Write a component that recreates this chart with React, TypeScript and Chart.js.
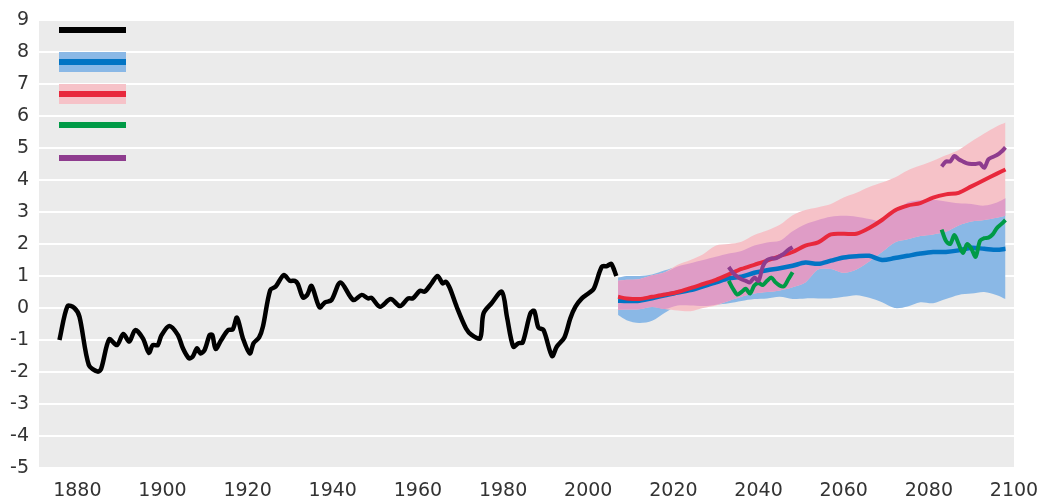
import React, { useEffect, useRef } from "react";
import { Chart, registerables } from "chart.js";

Chart.register(...registerables);

// ---- axis ticks ----
const xTickYears = [1880, 1900, 1920, 1940, 1960, 1980, 2000, 2020, 2040, 2060, 2080, 2100];
const yMin = -5;
const yMax = 9;
const xMin = 1871;
const xMax = 2100;

// ---- observed record (black) ----
const obsYears = [
  1875.8, 1877.7, 1879.3, 1880.5, 1882.7, 1884.8, 1885.6, 1887.5, 1889.3, 1890.8,
  1892.2, 1893.6, 1895.4, 1896.8, 1897.7, 1898.9, 1899.7, 1901.6, 1903.6, 1904.8,
  1906.2, 1907.1, 1908.1, 1908.9, 1909.9, 1911.1, 1911.7, 1912.5, 1913.8, 1915.4,
  1916.5, 1917.5, 1918.9, 1920.5, 1921.4, 1922.7, 1923.6, 1925.3, 1926.6, 1928.5,
  1929.9, 1931.1, 1931.8, 1933.0, 1934.0, 1935.0, 1936.9, 1938.1, 1939.7, 1941.8,
  1944.8, 1946.8, 1948.3, 1949.1, 1951.1, 1953.6, 1955.8, 1957.7, 1958.8, 1960.5,
  1961.6, 1963.2, 1964.6, 1965.8, 1966.6, 1967.5, 1969.1, 1971.3, 1972.6, 1974.6,
  1975.4, 1977.3, 1979.7, 1980.9, 1982.4, 1983.6, 1984.6, 1986.4, 1987.3, 1988.3,
  1989.5, 1991.5, 1992.6, 1994.4, 1995.8, 1997.0, 1998.5, 2000.1, 2001.3, 2003.2,
  2004.4, 2005.4, 2006.6,
];
const obsValues = [
  -1.0, 0.06, 0.0, -0.27, -1.78, -1.99, -1.9, -0.98, -1.16, -0.81,
  -1.05, -0.69, -0.95, -1.4, -1.16, -1.16, -0.87, -0.56, -0.84, -1.26,
  -1.57, -1.52, -1.26, -1.42, -1.31, -0.84, -0.84, -1.28, -1.0, -0.69,
  -0.67, -0.3, -0.95, -1.42, -1.1, -0.92, -0.58, 0.56, 0.67, 1.03,
  0.85, 0.85, 0.75, 0.33, 0.41, 0.69, 0.02, 0.17, 0.25, 0.8,
  0.25, 0.41, 0.3, 0.32, 0.04, 0.28, 0.06, 0.3, 0.3, 0.54,
  0.51, 0.77, 1.0, 0.77, 0.82, 0.62, 0.04, -0.64, -0.84, -0.95,
  -0.17, 0.15, 0.51, -0.27, -1.21, -1.1, -1.08, -0.17, -0.09, -0.61,
  -0.69, -1.5, -1.21, -0.92, -0.32, 0.04, 0.3, 0.46, 0.6, 1.29,
  1.31, 1.38, 1.0,
];

// ---- projections ----
const projYears = [
  2007, 2009, 2012, 2015, 2018, 2021, 2024, 2027, 2030, 2033, 2036, 2039, 2042, 2045, 2048, 2051,
  2054, 2057, 2060, 2063, 2066, 2069, 2072, 2075, 2078, 2081, 2084, 2087, 2090, 2093, 2096, 2098,
];
const blueUpper = [
  0.95, 1.0, 1.0, 1.05, 1.18, 1.3, 1.4, 1.5, 1.6, 1.7, 1.78, 1.95, 2.05, 2.1, 2.4, 2.62,
  2.75, 2.85, 2.88, 2.85, 2.78, 2.72, 3.0, 3.3, 3.37, 3.38, 3.33, 3.27, 3.25, 3.2, 3.3, 3.43,
];
const blueLower = [
  -0.22, -0.38, -0.47, -0.4, -0.15, 0.08, 0.08, 0.06, 0.1, 0.15, 0.22, 0.28, 0.3, 0.35, 0.28, 0.3,
  0.3, 0.3, 0.35, 0.4, 0.32, 0.18, 0.0, 0.05, 0.18, 0.15, 0.28, 0.41, 0.45, 0.5, 0.4, 0.28,
];
const pinkUpper = [
  0.85, 0.88, 0.9, 1.02, 1.12, 1.35, 1.5, 1.68, 1.95, 2.0, 2.07, 2.28, 2.42, 2.6, 2.9, 3.06,
  3.15, 3.25, 3.45, 3.6, 3.78, 3.92, 4.08, 4.3, 4.45, 4.6, 4.77, 4.94, 5.2, 5.45, 5.68, 5.8,
];
const pinkLower = [
  -0.06, -0.05, -0.04, 0.03, -0.03, -0.08, -0.1, 0.0, 0.08, 0.22, 0.35, 0.45, 0.5, 0.55, 0.65, 0.8,
  1.2, 1.22, 1.1, 1.2, 1.45, 1.75, 2.05, 2.15, 2.25, 2.3, 2.38, 2.58, 2.7, 2.75, 2.82, 2.88,
];
const blueMean = [
  0.23, 0.22, 0.23, 0.3, 0.4, 0.48, 0.56, 0.68, 0.8, 0.93, 0.98, 1.1, 1.18, 1.24, 1.32, 1.42,
  1.38, 1.48, 1.58, 1.62, 1.63, 1.5, 1.56, 1.63, 1.7, 1.75, 1.75, 1.8, 1.88, 1.85, 1.82, 1.85,
];
const redMean = [
  0.35, 0.3, 0.28, 0.35, 0.42, 0.5, 0.62, 0.75, 0.88, 1.05, 1.22, 1.35, 1.48, 1.62, 1.75, 1.95,
  2.05, 2.3, 2.32, 2.32, 2.5, 2.75, 3.05, 3.2, 3.28, 3.45, 3.55, 3.6, 3.8, 4.0, 4.2, 4.33,
];

// ---- short segments ----
const seg1Years = [2033, 2034, 2035, 2036, 2037, 2038, 2039, 2040, 2041, 2042, 2043, 2044, 2045, 2046, 2047, 2048];
const seg2Years = [2083, 2084, 2085, 2086, 2087, 2088, 2089, 2090, 2091, 2092, 2093, 2094, 2095, 2096, 2097, 2098];
const greenSeg1 = [0.85, 0.6, 0.42, 0.5, 0.6, 0.45, 0.7, 0.78, 0.72, 0.85, 0.95, 0.8, 0.7, 0.68, 0.9, 1.12];
const greenSeg2 = [2.45, 2.1, 2.0, 2.28, 2.0, 1.72, 2.0, 1.85, 1.6, 2.1, 2.18, 2.2, 2.3, 2.5, 2.62, 2.75];
const purpleSeg1 = [1.28, 1.1, 0.98, 0.9, 0.85, 0.8, 0.95, 0.85, 1.3, 1.5, 1.55, 1.55, 1.62, 1.7, 1.82, 1.9];
const purpleSeg2 = [4.42, 4.58, 4.58, 4.75, 4.65, 4.58, 4.52, 4.5, 4.5, 4.52, 4.38, 4.65, 4.72, 4.78, 4.88, 5.02];

// ---- colours ----
const C_BLACK = "#000000";
const C_BLUE = "#0274c4";
const C_BLUE_BAND = "#8ab8e6";
const C_RED = "#e8283c";
const C_PINK_BAND = "#f6c2c8";
const C_OVERLAP = "#df9cc6";
const C_GREEN = "#009a46";
const C_PURPLE = "#8e3c8e";
const C_BG = "#ebebeb";

const pts = (xs: number[], ys: number[]) => xs.map((x, i) => ({ x, y: ys[i] }));

const bgPlugin = {
  id: "plotBg",
  beforeDraw(chart: any) {
    const { ctx, chartArea } = chart;
    ctx.save();
    ctx.fillStyle = C_BG;
    ctx.fillRect(chartArea.left, chartArea.top, chartArea.right - chartArea.left, chartArea.bottom - chartArea.top);
    ctx.restore();
  },
};

const legendItems = [
  { line: C_BLACK, band: null as string | null, dy: 10, lw: 6 },
  { line: C_BLUE, band: C_BLUE_BAND, dy: 42, lw: 6 },
  { line: C_RED, band: C_PINK_BAND, dy: 74, lw: 6 },
  { line: C_GREEN, band: null as string | null, dy: 105, lw: 6 },
  { line: C_PURPLE, band: null as string | null, dy: 138, lw: 6 },
];

const legendPlugin = {
  id: "swatchLegend",
  afterDatasetsDraw(chart: any) {
    const { ctx, chartArea } = chart;
    const x0 = chartArea.left + 20;
    const w = 67;
    ctx.save();
    for (const it of legendItems) {
      const yc = chartArea.top + it.dy;
      if (it.band) {
        ctx.fillStyle = it.band;
        ctx.fillRect(x0, yc - 10, w, 20);
      }
      ctx.fillStyle = it.line;
      ctx.fillRect(x0, yc - it.lw / 2, w, it.lw);
    }
    ctx.restore();
  },
};

export default function App() {
  const canvasRef = useRef<HTMLCanvasElement | null>(null);

  useEffect(() => {
    if (!canvasRef.current) return;
    const overlapUpper = projYears.map((_, i) => Math.min(blueUpper[i], pinkUpper[i]));
    const overlapLower = projYears.map((_, i) => Math.max(blueLower[i], pinkLower[i]));

    const band = (data: any[], color: string, fillTarget: any, order: number) => ({
      data,
      borderWidth: 0,
      borderColor: "rgba(0,0,0,0)",
      backgroundColor: color,
      pointRadius: 0,
      fill: fillTarget,
      tension: 0.3,
      order,
    });
    const line = (data: any[], color: string, width: number, order: number) => ({
      data,
      borderColor: color,
      borderWidth: width,
      pointRadius: 0,
      fill: false,
      tension: 0.3,
      borderCapStyle: "butt",
      borderJoinStyle: "round",
      order,
    });

    const chart = new Chart(canvasRef.current, {
      type: "line",
      data: {
        datasets: [
          band(pts(projYears, blueUpper), C_BLUE_BAND, 1, 20) as any,
          band(pts(projYears, blueLower), C_BLUE_BAND, false, 21) as any,
          band(pts(projYears, pinkUpper), C_PINK_BAND, 3, 18) as any,
          band(pts(projYears, pinkLower), C_PINK_BAND, false, 19) as any,
          band(pts(projYears, overlapUpper), C_OVERLAP, 5, 16) as any,
          band(pts(projYears, overlapLower), C_OVERLAP, false, 17) as any,
          line(pts(projYears, blueMean), C_BLUE, 4.5, 6) as any,
          line(pts(projYears, redMean), C_RED, 4, 5) as any,
          line(pts(seg1Years, greenSeg1), C_GREEN, 4, 4) as any,
          line(pts(seg2Years, greenSeg2), C_GREEN, 4, 4) as any,
          line(pts(seg1Years, purpleSeg1), C_PURPLE, 4, 3) as any,
          line(pts(seg2Years, purpleSeg2), C_PURPLE, 4, 3) as any,
          line(pts(obsYears, obsValues), C_BLACK, 4.5, 1) as any,
        ],
      },
      options: {
        animation: false,
        responsive: true,
        maintainAspectRatio: false,
        parsing: false as any,
        normalized: true,
        layout: { padding: { top: 20, right: 26, left: 0, bottom: 0 } },
        plugins: {
          legend: { display: false },
          tooltip: { enabled: false },
          filler: { propagate: false },
        },
        scales: {
          x: {
            type: "linear",
            min: xMin,
            max: xMax,
            grid: { display: false, drawTicks: false },
            border: { display: false },
            afterBuildTicks: (scale: any) => {
              scale.ticks = xTickYears.map((v) => ({ value: v }));
            },
            afterFit: (scale: any) => {
              scale.height = 34;
              scale.paddingLeft = 0;
              scale.paddingRight = 0;
              scale.paddingTop = 0;
              scale.paddingBottom = 0;
            },
            ticks: {
              padding: 12,
              color: "#333333",
              font: { family: "DejaVu Sans", size: 19 },
              callback: (v: any) => String(v),
              maxRotation: 0,
              autoSkip: false,
            },
          },
          y: {
            type: "linear",
            min: yMin,
            max: yMax,
            grid: { color: "#ffffff", lineWidth: 2, drawTicks: false },
            border: { display: false },
            afterFit: (scale: any) => {
              scale.width = 39;
              scale.paddingLeft = 0;
              scale.paddingRight = 0;
              scale.paddingTop = 0;
              scale.paddingBottom = 0;
            },
            ticks: {
              stepSize: 1,
              padding: 10,
              color: "#333333",
              font: { family: "DejaVu Sans", size: 19 },
              callback: (v: any) => String(v),
            },
          },
        },
      },
      plugins: [bgPlugin, legendPlugin],
    });
    return () => chart.destroy();
  }, []);

  return (
    <div style={{ position: "fixed", left: 0, top: 0, width: 1040, height: 502, background: "#ffffff" }}>
      <canvas ref={canvasRef} />
    </div>
  );
}
